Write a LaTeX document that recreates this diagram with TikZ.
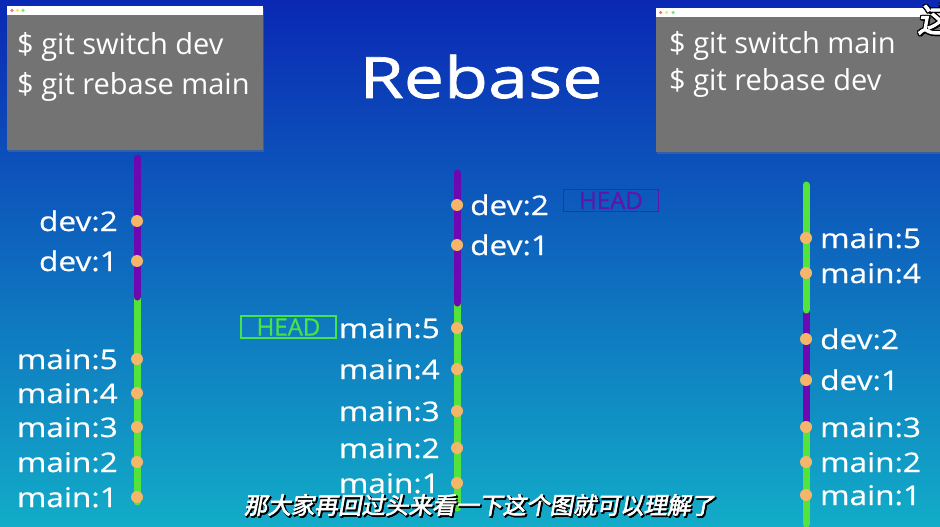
\documentclass[tikz,border=0pt]{standalone}
\usepackage{fontspec}
\setmainfont{Open Sans}
\newfontfamily\wide[FakeStretch=1.17,FakeBold=0.6]{Open Sans}
\newfontfamily\titlefont[FakeStretch=1.26,FakeBold=1.2]{Open Sans}
\newfontfamily\headfont[FakeBold=0.8]{Open Sans}
\newfontfamily\cjk[FakeSlant=0.18,FakeBold=2.5]{Noto Sans CJK SC}
\usetikzlibrary{shadows}
\definecolor{bgtop}{RGB}{10,40,180}
\definecolor{bgbot}{RGB}{18,172,200}
\definecolor{devc}{RGB}{110,8,178}
\definecolor{mainc}{RGB}{84,226,60}
\definecolor{dotc}{RGB}{245,182,105}
\definecolor{boxgray}{RGB}{115,115,115}
\definecolor{headgreen}{RGB}{70,228,70}
\definecolor{headpurple}{RGB}{95,20,170}
\definecolor{dotred}{RGB}{255,110,110}
\definecolor{dotyellow}{RGB}{240,230,110}
\definecolor{dotgreen}{RGB}{120,230,120}
\tikzset{
  window/.style={fill=boxgray, draw=none, anchor=north west, inner sep=0,
    drop shadow={shadow xshift=1pt, shadow yshift=-1.5pt, opacity=0.35}},
  titlebar/.style={fill=white, draw=none, anchor=north west, inner sep=0},
  windot/.style={circle, inner sep=0, minimum size=3.5pt, draw=none},
  trunk/.style={line width=7pt, line cap=round},
  devline/.style={trunk, draw=devc},
  mainline/.style={trunk, draw=mainc},
  commit/.style={circle, fill=dotc, draw=none, minimum size=12pt, inner sep=0},
  lbl/.style={text=white, font=\wide\fontsize{27}{27}\selectfont, inner sep=0},
  cmd/.style={text=white, font=\fontsize{29}{29}\selectfont, inner sep=0, anchor=base west},
  headbox/.style={draw, line width=1.5pt, minimum width=95pt, minimum height=22pt,
    inner sep=0, font=\headfont\fontsize{24}{24}\selectfont},
  subt/.style={font=\cjk\fontsize{23.5}{23.5}\selectfont, inner sep=0, text=white},
  subshadow/.style={subt, text=black},
}
\begin{document}
\begin{tikzpicture}[x=1pt,y=-1pt]
\useasboundingbox (0,0) rectangle (940,527);
\shade[top color=bgtop, bottom color=bgbot] (0,0) rectangle (940,527);

% windows
\node[window, minimum width=256pt, minimum height=144pt] (winL) at (7,6) {};
\node[titlebar, minimum width=256pt, minimum height=9pt] (barL) at (7,6) {};
\node[windot, fill=dotred] (rL) at (12,10.5) {};
\node[windot, fill=dotyellow] (yL) at (17.5,10.5) {};
\node[windot, fill=dotgreen] (gL) at (23,10.5) {};
\node[cmd] (cmdL1) at (17,55) {\$ git switch dev};
\node[cmd] (cmdL2) at (17,95) {\$ git rebase main};

\node[window, minimum width=300pt, minimum height=144pt] (winR) at (656,8) {};
\node[titlebar, minimum width=300pt, minimum height=9pt] (barR) at (656,8) {};
\node[windot, fill=dotred] (rR) at (660.5,12.5) {};
\node[windot, fill=dotyellow] (yR) at (666.5,12.5) {};
\node[windot, fill=dotgreen] (gR) at (673,12.5) {};
\node[cmd] (cmdR1) at (669,54) {\$ git switch main};
\node[cmd] (cmdR2) at (669,91) {\$ git rebase dev};

% title
\node[text=white, font=\titlefont\fontsize{57}{57}\selectfont, inner sep=0, anchor=base] (title) at (481,98) {Rebase};

% left column
\coordinate (L0) at (137,158);
\coordinate (L1) at (137,297);
\coordinate (L2) at (137,502);
\draw[mainline] (L1) -- (L2);
\draw[devline] (L0) -- (L1);
\foreach \n/\y/\t in {Ld2/221/dev:2, Ld1/261/dev:1, Lm5/359/main:5, Lm4/393/main:4, Lm3/427/main:3, Lm2/462/main:2, Lm1/497/main:1}{
  \node[commit] (\n) at (137,\y) {};
  \node[lbl, anchor=base east] (\n t) at ([xshift=-19pt,yshift=-10pt]\n.center) {\t};
}

% middle column
\coordinate (M0) at (457,173);
\coordinate (M1) at (457,303);
\coordinate (M2) at (457,508);
\draw[mainline] (M1) -- (M2);
\draw[devline] (M0) -- (M1);
\foreach \n/\y/\t in {Md2/205/dev:2, Md1/245/dev:1}{
  \node[commit] (\n) at (457,\y) {};
  \node[lbl, anchor=base west] (\n t) at ([xshift=13pt,yshift=-10pt]\n.center) {\t};
}
\foreach \n/\y/\t in {Mm5/328/main:5, Mm4/369/main:4, Mm3/411/main:3, Mm2/448/main:2, Mm1/483/main:1}{
  \node[commit] (\n) at (457,\y) {};
  \node[lbl, anchor=base east] (\n t) at ([xshift=-17pt,yshift=-10pt]\n.center) {\t};
}
\node[headbox, draw=headgreen, text=headgreen] (headG) at (288.5,327) {HEAD};
\node[headbox, draw=headpurple, text=headpurple] (headP) at (611,200.5) {HEAD};

% right column
\coordinate (R0) at (806,185);
\coordinate (R1) at (806,310);
\coordinate (R2) at (806,422);
\coordinate (R3) at (806,524);
\draw[mainline] (R2) -- (R3);
\draw[devline] (R1) -- (R2);
\draw[mainline] (R0) -- (R1);
\foreach \n/\y/\t in {Rm5/238/main:5, Rm4/273/main:4, Rd2/339/dev:2, Rd1/380/dev:1, Rm3/427/main:3, Rm2/462/main:2, Rm1/495/main:1}{
  \node[commit] (\n) at (806,\y) {};
  \node[lbl, anchor=base west] (\n t) at ([xshift=14pt,yshift=-10pt]\n.center) {\t};
}

% subtitles
\foreach \dx/\dy in {1.6/1.6, 1/1.8, 1.8/1}{
  \node[subshadow] at (479+\dx,505+\dy) {那大家再回过头来看一下这个图就可以理解了};
}
\node[subt] (sub) at (479,505) {那大家再回过头来看一下这个图就可以理解了};
\foreach \dx/\dy in {1.5/1.5, -1/1, 1/-1, -1/-1, 1.5/0, 0/1.5}{
  \node[subshadow, font=\cjk\fontsize{34}{34}\selectfont, anchor=west] at (917+\dx,19+\dy) {这};
}
\node[subt, font=\cjk\fontsize{34}{34}\selectfont, anchor=west] (zhe) at (917,19) {这};
\end{tikzpicture}
\end{document}
